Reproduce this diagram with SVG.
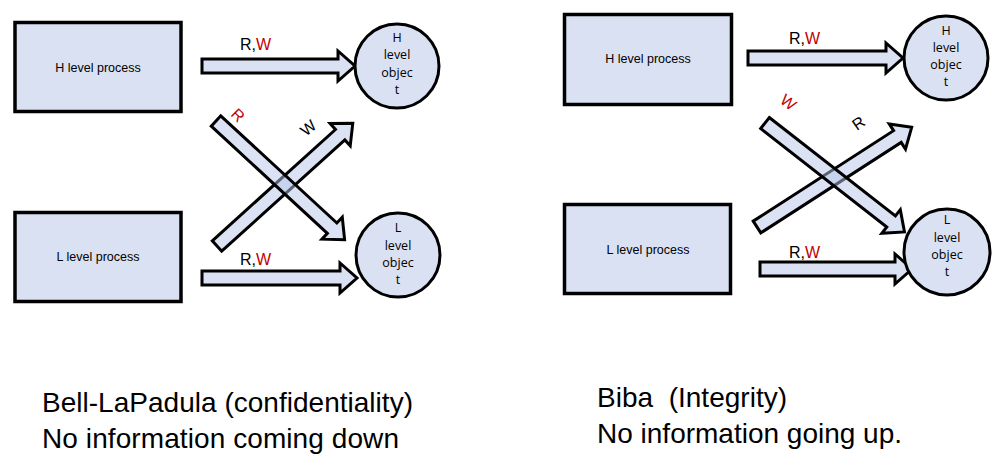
<svg xmlns="http://www.w3.org/2000/svg" width="997" height="460" viewBox="0 0 997 460">
<style>
.box{fill:#dae1f2;stroke:#000;stroke-width:3.5}
.obj{fill:#dae1f2;stroke:#000;stroke-width:3}
.arr{fill:#dae1f2;stroke:#000;stroke-width:3;stroke-linejoin:miter}
.darr{fill:#b6c5e8;fill-opacity:0.5;stroke:#000;stroke-width:3;stroke-linejoin:miter}
.bt{font-family:"Liberation Sans",Arial,sans-serif;font-size:12.5px;fill:#000;text-anchor:middle}
.ot{font-family:"Open Sans","DejaVu Sans",sans-serif;font-size:12.5px;fill:#000;text-anchor:middle}
.lb{font-family:"Liberation Sans",Arial,sans-serif;font-size:16px;fill:#000}
.red{fill:#c00000}
.cap{font-family:"Liberation Sans",Arial,sans-serif;font-size:28px;fill:#000}
</style>
<rect width="997" height="460" fill="#fff"/>

<g id="connectors">
  <polygon class="arr" transform="translate(202,66)" points="0,-7 136,-7 136,-15 153,0 136,15 136,7 0,7"/>
  <polygon class="arr" transform="translate(202,278)" points="0,-7 138,-7 138,-15 155,0 138,15 138,7 0,7"/>
  <polygon class="darr" transform="translate(217,246) rotate(-42.1)" points="0,-7 166,-7 166,-15 183,0 166,15 166,7 0,7"/>
  <polygon class="darr" transform="translate(216,121) rotate(42.7)" points="0,-7 158,-7 158,-15 175,0 158,15 158,7 0,7"/>

  <polygon class="arr" transform="translate(748,58)" points="0,-7 138,-7 138,-15 155,0 138,15 138,7 0,7"/>
  <polygon class="arr" transform="translate(760,269)" points="0,-7 135,-7 135,-15 152,0 135,15 135,7 0,7"/>
  <polygon class="darr" transform="translate(757,227) rotate(-32.8)" points="0,-7 167,-7 167,-15 184,0 167,15 167,7 0,7"/>
  <polygon class="darr" transform="translate(765,123) rotate(38)" points="0,-7 160,-7 160,-15 177,0 160,15 160,7 0,7"/>

  <text class="lb" x="240" y="50">R,<tspan class="red">W</tspan></text>
  <text class="lb" x="240" y="265">R,<tspan class="red">W</tspan></text>
  <text class="lb red" transform="translate(230,115) rotate(45)">R</text>
  <text class="lb" transform="translate(306,137) rotate(-40)">W</text>

  <text class="lb" x="789" y="44">R,<tspan class="red">W</tspan></text>
  <text class="lb" x="789" y="258">R,<tspan class="red">W</tspan></text>
  <text class="lb red" transform="translate(779,102) rotate(38)">W</text>
  <text class="lb" transform="translate(857,131) rotate(-35)">R</text>
</g>

<g id="bl-h-process">
  <rect class="box" x="15" y="22.5" width="166" height="89"/>
  <text class="bt" x="98" y="72">H level process</text>
</g>
<g id="bl-l-process">
  <rect class="box" x="15" y="212.5" width="166" height="89"/>
  <text class="bt" x="98" y="261">L level process</text>
</g>
<g id="bl-h-object">
  <circle class="obj" cx="397" cy="66" r="42"/>
  <text class="ot" x="397" y="42">H</text>
  <text class="ot" x="397" y="59">level</text>
  <text class="ot" x="397" y="77">objec</text>
  <text class="ot" x="397" y="94">t</text>
</g>
<g id="bl-l-object">
  <circle class="obj" cx="398" cy="255" r="42"/>
  <text class="ot" x="398" y="232">L</text>
  <text class="ot" x="398" y="250">level</text>
  <text class="ot" x="398" y="267">objec</text>
  <text class="ot" x="398" y="284">t</text>
</g>

<g id="biba-h-process">
  <rect class="box" x="564.5" y="14.5" width="167" height="90"/>
  <text class="bt" x="648" y="63">H level process</text>
</g>
<g id="biba-l-process">
  <rect class="box" x="564.5" y="204.5" width="166" height="89"/>
  <text class="bt" x="648" y="254">L level process</text>
</g>
<g id="biba-h-object">
  <circle class="obj" cx="946" cy="58" r="42"/>
  <text class="ot" x="946" y="35">H</text>
  <text class="ot" x="946" y="52">level</text>
  <text class="ot" x="946" y="69">objec</text>
  <text class="ot" x="946" y="86">t</text>
</g>
<g id="biba-l-object">
  <circle class="obj" cx="947" cy="252" r="43"/>
  <text class="ot" x="947" y="224">L</text>
  <text class="ot" x="947" y="242">level</text>
  <text class="ot" x="947" y="259">objec</text>
  <text class="ot" x="947" y="276">t</text>
</g>

<g id="captions">
  <text class="cap" x="42" y="412" textLength="371">Bell-LaPadula (confidentiality)</text>
  <text class="cap" x="42" y="448" textLength="357">No information coming down</text>
  <text class="cap" x="597" y="407" textLength="190" xml:space="preserve">Biba  (Integrity)</text>
  <text class="cap" x="597" y="443" textLength="305">No information going up.</text>
</g>
</svg>
